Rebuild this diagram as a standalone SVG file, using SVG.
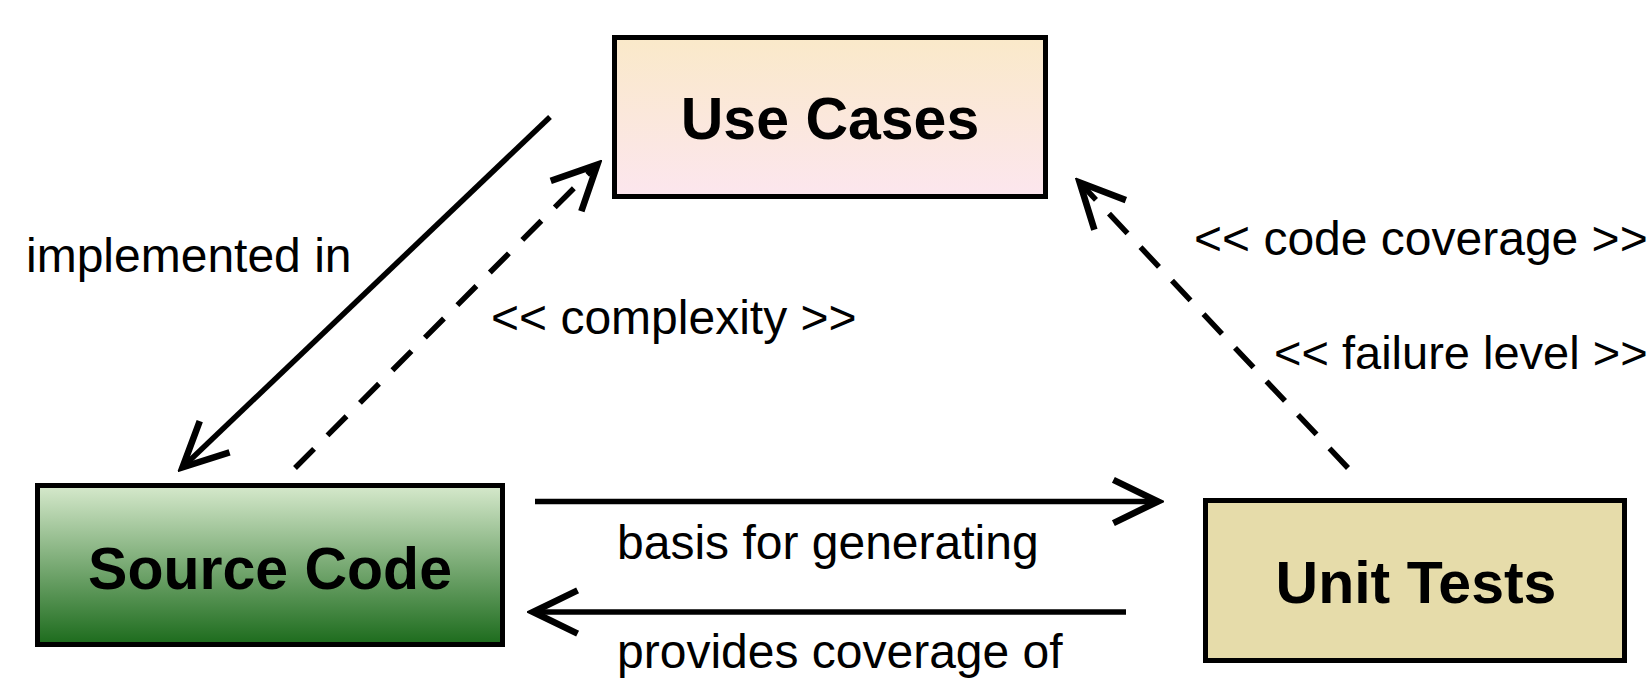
<svg xmlns="http://www.w3.org/2000/svg" width="1652" height="682" viewBox="0 0 1652 682">
  <style>
    .box { stroke: #000; stroke-width: 5; }
    .title { font-family: "Liberation Sans", Arial, sans-serif; font-weight: bold; font-size: 59px; fill: #000; text-anchor: middle; }
    .lbl { font-family: "Liberation Sans", Arial, sans-serif; font-size: 48px; fill: #000; }
    .conn { stroke: #000; stroke-width: 5.5; fill: none; marker-end: url(#arrow); }
    .dash { stroke-dasharray: 27 19; }
  </style>
  <defs>
    <linearGradient id="gUse" x1="0" y1="0" x2="0" y2="1">
      <stop offset="0" stop-color="#FAE9C9"/>
      <stop offset="1" stop-color="#FCE6EE"/>
    </linearGradient>
    <linearGradient id="gSrc" x1="0" y1="0" x2="0" y2="1">
      <stop offset="0" stop-color="#D6E9CC"/>
      <stop offset="1" stop-color="#1C6B1C"/>
    </linearGradient>
    <marker id="arrow" markerUnits="userSpaceOnUse" markerWidth="60" markerHeight="60" viewBox="-45 -25 50 50" refX="-4" refY="0" orient="auto">
      <path d="M -37 -18 L 0 0 L -37 18" fill="none" stroke="#000" stroke-width="5.5" stroke-linejoin="miter"/>
    </marker>
  </defs>

  <g id="connectors">
    <g id="edge-implemented">
      <line class="conn" x1="550" y1="117" x2="186" y2="464"/>
      <text class="lbl" x="26" y="272">implemented in</text>
    </g>
    <g id="edge-complexity">
      <line class="conn dash" x1="295" y1="468" x2="594" y2="168"/>
      <text class="lbl" x="491" y="334">&lt;&lt; complexity &gt;&gt;</text>
    </g>
    <g id="edge-coverage">
      <line class="conn dash" x1="1348" y1="468" x2="1083" y2="186"/>
      <text class="lbl" x="1194" y="255">&lt;&lt; code coverage &gt;&gt;</text>
      <text class="lbl" x="1274" y="369" style="font-size:47px">&lt;&lt; failure level &gt;&gt;</text>
    </g>
    <g id="edge-basis">
      <line class="conn" x1="535" y1="501.5" x2="1153" y2="501.5"/>
      <text class="lbl" x="617" y="559">basis for generating</text>
    </g>
    <g id="edge-provides">
      <line class="conn" x1="1126" y1="612" x2="538" y2="612"/>
      <text class="lbl" x="617" y="668">provides coverage of</text>
    </g>
  </g>

  <g id="node-use-cases">
    <rect class="box" x="614.5" y="37.5" width="431" height="159" fill="url(#gUse)"/>
    <text class="title" x="830" y="139">Use Cases</text>
  </g>
  <g id="node-source-code">
    <rect class="box" x="37.5" y="485.5" width="465" height="159" fill="url(#gSrc)"/>
    <text class="title" x="270" y="589">Source Code</text>
  </g>
  <g id="node-unit-tests">
    <rect class="box" x="1205.5" y="500.5" width="419" height="160" fill="#E6DCAA"/>
    <text class="title" x="1416" y="603">Unit Tests</text>
  </g>
</svg>
